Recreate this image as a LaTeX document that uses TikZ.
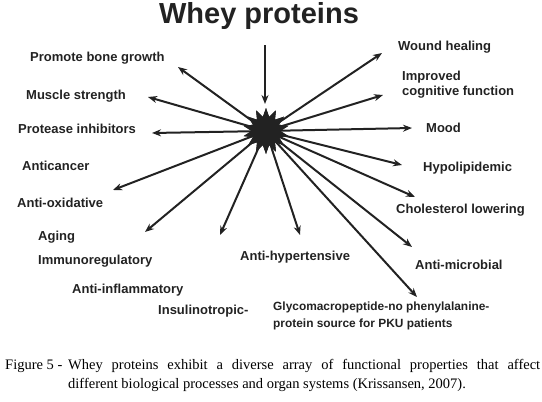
\documentclass[tikz,border=0pt]{standalone}
\usepackage{fontspec}
\setmainfont{Liberation Serif}
\setsansfont{Liberation Sans}
\usetikzlibrary{arrows.meta, shapes.geometric}
\definecolor{Ink}{HTML}{222222}
\tikzset{
    effect/.style={font=\sffamily\bfseries\fontsize{13}{15}\selectfont, text=Ink, anchor=west, align=left, inner sep=0pt},
    spoke/.style={-{Stealth[length=9pt, width=7pt]}, line width=2pt, color=Ink},
    burstshape/.style={star, star points=14, star point ratio=1.6, fill=Ink, inner sep=0pt, minimum size=46pt},
    captext/.style={anchor=west, inner sep=0pt, font=\fontsize{14.5}{19}\selectfont},
}

\begin{document}
\begin{tikzpicture}[x=1pt, y=-1pt]
    \useasboundingbox (0,0) rectangle (542,402);

    % Titolo e centro
    \node[font=\sffamily\bfseries\fontsize{29}{31}\selectfont, text=Ink] (title) at (259,16) {Whey proteins};
    \node[burstshape] (burst) at (266,131) {};
    \coordinate (intop) at (265,45);
    \coordinate (intip) at (265,104);

    % Effetti a sinistra
    \node[effect] (bone) at (30,58) {Promote bone growth};
    \node[effect] (muscle) at (26,96) {Muscle strength};
    \node[effect] (protease) at (18,129) {Protease inhibitors};
    \node[effect] (cancer) at (22,166) {Anticancer};
    \node[effect] (oxid) at (17,203) {Anti-oxidative};
    \node[effect] (aging) at (38,237) {Aging};
    \node[effect] (immuno) at (38,261) {Immunoregulatory};
    \node[effect] (inflam) at (72,290) {Anti-inflammatory};
    \node[effect] (insulin) at (158,311) {Insulinotropic-};
    \node[effect] (hyper) at (240,257) {Anti-hypertensive};

    % Effetti a destra
    \node[effect] (wound) at (398,47) {Wound healing};
    \node[effect] (cogn) at (402,85) {Improved\\cognitive function};
    \node[effect] (mood) at (426,128) {Mood};
    \node[effect] (lipid) at (423,168) {Hypolipidemic};
    \node[effect] (chol) at (396,210) {Cholesterol lowering};
    \node[effect] (micro) at (415,265) {Anti-microbial};
    \node[effect, font=\sffamily\bfseries\fontsize{11.9}{17}\selectfont] (gmp) at (273,316) {Glycomacropeptide-no phenylalanine-\\protein source for PKU patients};

    % Punte delle frecce
    \coordinate (tbone) at (178,67);
    \coordinate (tmuscle) at (148,97);
    \coordinate (tprotease) at (152,133);
    \coordinate (toxid) at (113,190);
    \coordinate (taging) at (145,232);
    \coordinate (tinsulin) at (220,235);
    \coordinate (thyper) at (300,235);
    \coordinate (twound) at (382,53);
    \coordinate (tcogn) at (383,95);
    \coordinate (tmood) at (412,128);
    \coordinate (tlipid) at (402,165);
    \coordinate (tchol) at (415,197);
    \coordinate (tmicro) at (412,247);
    \coordinate (tgmp) at (417,297);

    \draw[spoke] (intop) -- (intip);
    \foreach \t in {tbone, tmuscle, tprotease, toxid, taging, tinsulin, thyper,
                    twound, tcogn, tmood, tlipid, tchol, tmicro, tgmp}
        \draw[spoke] (burst.center) -- (\t);
    \node[burstshape] at (burst) {};

    % Didascalia
    \node[captext] (fig) at (5,366) {Figure 5 -};
    \node[captext] (capone) at (68,366) {\makebox[472pt][s]{Whey proteins exhibit a diverse array of functional properties that affect}};
    \node[captext] (captwo) at (68,385) {different biological processes and organ systems (Krissansen, 2007).};
\end{tikzpicture}
\end{document}
